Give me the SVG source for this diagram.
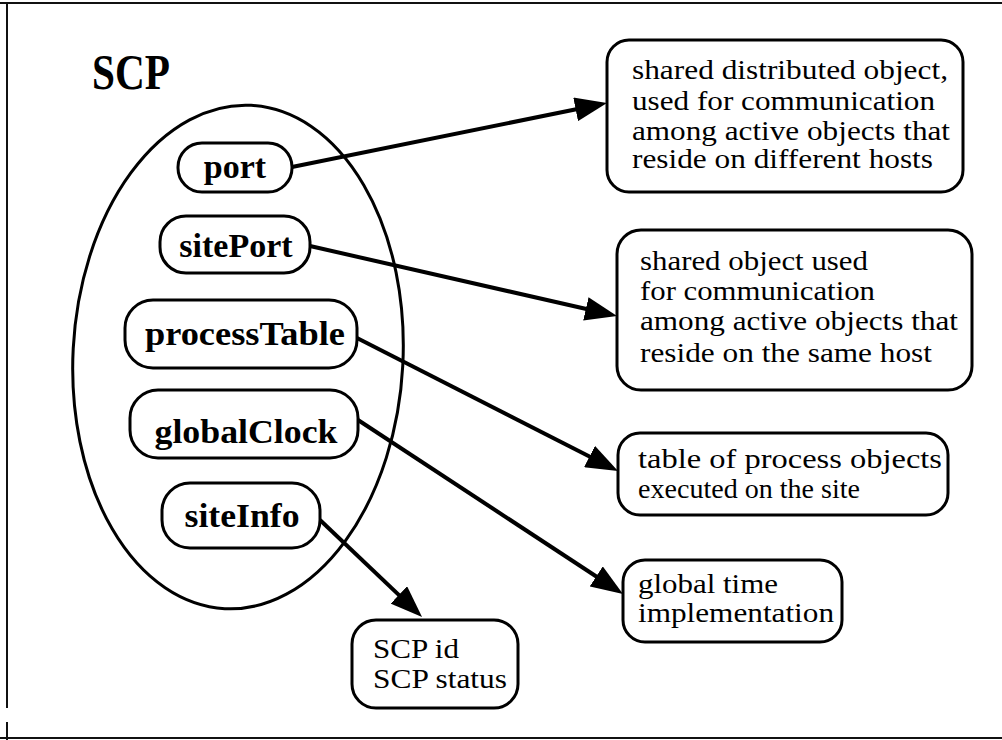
<svg xmlns="http://www.w3.org/2000/svg" width="1002" height="740" viewBox="0 0 1002 740">
  <defs>
    <style>
      .frame { stroke: #111; stroke-width: 2; fill: none; }
      .box { fill: #fff; stroke: #000; stroke-width: 3; }
      .field { font-family: "Liberation Serif", "Times New Roman", serif; font-weight: bold; font-size: 34px; fill: #000; text-anchor: middle; }
      .note { font-family: "Liberation Serif", "Times New Roman", serif; font-size: 27px; fill: #000; }
      .title { font-family: "Liberation Serif", "Times New Roman", serif; font-weight: bold; font-size: 50px; fill: #000; }
      .link { stroke: #000; stroke-width: 4; fill: none; }
    </style>
    <marker id="arrow" viewBox="0 0 32 24" markerUnits="userSpaceOnUse" markerWidth="32" markerHeight="24" refX="22" refY="12" orient="auto">
      <path d="M0,0 L32,12 L0,24 Z" fill="#000"/>
    </marker>
  </defs>

  <rect width="1002" height="740" fill="#fff"/>

  <!-- page frame -->
  <g id="frame">
    <line class="frame" x1="0" y1="3" x2="1002" y2="3"/>
    <line class="frame" x1="7" y1="3" x2="7" y2="708"/>
    <line class="frame" x1="7" y1="722" x2="7" y2="740"/>
    <line class="frame" x1="0" y1="738" x2="1002" y2="738" stroke="#555"/>
  </g>

  <text class="title" x="92" y="89" textLength="78" lengthAdjust="spacingAndGlyphs">SCP</text>

  <!-- container -->
  <g id="scp">
    <ellipse cx="238" cy="357" rx="165" ry="252" transform="rotate(3 238 357)" fill="none" stroke="#000" stroke-width="3"/>
  </g>

  <!-- connectors -->
  <g id="connectors">
    <line class="link" x1="292" y1="167" x2="597.2" y2="105.0" marker-end="url(#arrow)"/>
    <line class="link" x1="310" y1="246" x2="607.3" y2="313.8" marker-end="url(#arrow)"/>
    <line class="link" x1="357" y1="338" x2="609.1" y2="466.5" marker-end="url(#arrow)"/>
    <line class="link" x1="358" y1="420" x2="614.6" y2="588.5" marker-end="url(#arrow)"/>
    <line class="link" x1="320" y1="520" x2="414.8" y2="610.1" marker-end="url(#arrow)"/>
  </g>

  <!-- fields inside SCP -->
  <g id="port">
    <rect class="box" x="178" y="143" width="114" height="49" rx="24"/>
    <text class="field" x="235" y="178">port</text>
  </g>
  <g id="sitePort">
    <rect class="box" x="160" y="216" width="150" height="57" rx="26"/>
    <text class="field" x="236" y="257">sitePort</text>
  </g>
  <g id="processTable">
    <rect class="box" x="125" y="300" width="232" height="68" rx="28"/>
    <text class="field" x="245" y="345" textLength="200" lengthAdjust="spacingAndGlyphs">processTable</text>
  </g>
  <g id="globalClock">
    <rect class="box" x="130" y="390" width="228" height="68" rx="28"/>
    <text class="field" x="246" y="443" textLength="183" lengthAdjust="spacingAndGlyphs">globalClock</text>
  </g>
  <g id="siteInfo">
    <rect class="box" x="162" y="483" width="158" height="65" rx="28"/>
    <text class="field" x="242" y="527" textLength="115" lengthAdjust="spacingAndGlyphs">siteInfo</text>
  </g>

  <!-- descriptions -->
  <g id="portNote">
    <rect class="box" x="607" y="40" width="356" height="152" rx="22"/>
    <text class="note" x="632" y="79" textLength="316" lengthAdjust="spacingAndGlyphs">shared distributed object,</text>
    <text class="note" x="632" y="110" textLength="303" lengthAdjust="spacingAndGlyphs">used for communication</text>
    <text class="note" x="632" y="140" textLength="318" lengthAdjust="spacingAndGlyphs">among active objects that</text>
    <text class="note" x="632" y="168" textLength="301" lengthAdjust="spacingAndGlyphs">reside on different hosts</text>
  </g>
  <g id="sitePortNote">
    <rect class="box" x="617" y="230" width="355" height="160" rx="24"/>
    <text class="note" x="640" y="270" textLength="228" lengthAdjust="spacingAndGlyphs">shared object used</text>
    <text class="note" x="640" y="300" textLength="235" lengthAdjust="spacingAndGlyphs">for communication</text>
    <text class="note" x="640" y="330" textLength="318" lengthAdjust="spacingAndGlyphs">among active objects that</text>
    <text class="note" x="640" y="362" textLength="292" lengthAdjust="spacingAndGlyphs">reside on the same host</text>
  </g>
  <g id="processTableNote">
    <rect class="box" x="618" y="433" width="330" height="82" rx="22"/>
    <text class="note" x="638" y="468" textLength="304" lengthAdjust="spacingAndGlyphs">table of process objects</text>
    <text class="note" x="638" y="498" textLength="222" lengthAdjust="spacingAndGlyphs">executed on the site</text>
  </g>
  <g id="globalClockNote">
    <rect class="box" x="623" y="560" width="219" height="82" rx="22"/>
    <text class="note" x="638" y="593" textLength="140" lengthAdjust="spacingAndGlyphs">global time</text>
    <text class="note" x="638" y="622" textLength="196" lengthAdjust="spacingAndGlyphs">implementation</text>
  </g>
  <g id="siteInfoNote">
    <rect class="box" x="352" y="620" width="166" height="88" rx="24"/>
    <text class="note" x="373" y="658" textLength="86" lengthAdjust="spacingAndGlyphs">SCP id</text>
    <text class="note" x="373" y="688" textLength="134" lengthAdjust="spacingAndGlyphs">SCP status</text>
  </g>
</svg>
